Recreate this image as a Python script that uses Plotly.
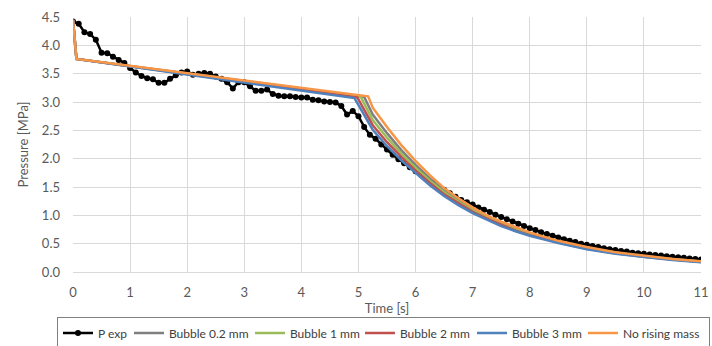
import plotly.graph_objects as go

# ---------------- data ----------------
t_exp = [round(i * 0.1, 1) for i in range(111)]
p_exp = [4.42, 4.38, 4.23, 4.20, 4.10, 3.87, 3.86, 3.80, 3.74, 3.69,
         3.60, 3.52, 3.46, 3.42, 3.40, 3.34, 3.34, 3.41, 3.47, 3.52,
         3.54, 3.48, 3.50, 3.51, 3.50, 3.45, 3.41, 3.35, 3.24, 3.35,
         3.35, 3.28, 3.20, 3.20, 3.22, 3.14, 3.11, 3.10, 3.10, 3.09,
         3.08, 3.08, 3.04, 3.03, 3.01, 3.00, 2.99, 2.93, 2.78, 2.84,
         2.75, 2.56, 2.42, 2.35, 2.25, 2.16, 2.07, 1.99, 1.92, 1.85,
         1.78, 1.71, 1.64, 1.57, 1.51, 1.45, 1.39, 1.33, 1.27, 1.23,
         1.19, 1.14, 1.10, 1.06, 1.01, 0.97, 0.93, 0.89, 0.85, 0.81,
         0.77, 0.74, 0.70, 0.67, 0.64, 0.61, 0.58, 0.55, 0.53, 0.50,
         0.48, 0.46, 0.44, 0.42, 0.40, 0.39, 0.37, 0.36, 0.34, 0.33,
         0.32, 0.31, 0.30, 0.29, 0.28, 0.27, 0.26, 0.25, 0.24, 0.23,
         0.22]

t_start = [0.0, 0.06]
p_start = [4.45, 3.76]
t_tail = [5.25, 5.5, 5.75, 6.0, 6.25, 6.5, 6.75, 7.0, 7.25, 7.5, 7.75, 8.0, 8.5,
          9.0, 9.5, 10.0, 10.5, 11.0]

t_knee_02 = 5.10
p_knee_02 = 3.09
p_tail_02 = [2.78, 2.45, 2.15, 1.89, 1.65, 1.44, 1.27, 1.11, 0.98, 0.87, 0.77,
             0.68, 0.54, 0.43, 0.34, 0.28, 0.23, 0.185]

t_knee_1 = 5.04
p_knee_1 = 3.09
p_tail_1 = [2.68, 2.37, 2.09, 1.84, 1.61, 1.41, 1.24, 1.09, 0.96, 0.85, 0.75,
            0.67, 0.53, 0.42, 0.34, 0.27, 0.22, 0.18]

t_knee_2 = 4.98
p_knee_2 = 3.08
p_tail_2 = [2.59, 2.29, 2.03, 1.79, 1.57, 1.37, 1.21, 1.06, 0.94, 0.83, 0.73,
            0.65, 0.52, 0.41, 0.33, 0.27, 0.22, 0.178]

t_knee_3 = 4.93
p_knee_3 = 3.07
p_tail_3 = [2.51, 2.22, 1.97, 1.75, 1.53, 1.34, 1.18, 1.04, 0.92, 0.81, 0.72,
            0.64, 0.51, 0.40, 0.32, 0.26, 0.21, 0.172]

t_knee_nr = 5.17
p_knee_nr = 3.10
p_tail_nr = [2.90, 2.56, 2.24, 1.96, 1.71, 1.48, 1.30, 1.14, 1.00, 0.89, 0.79,
             0.70, 0.55, 0.44, 0.35, 0.29, 0.23, 0.19]

names = ["P exp", "Bubble 0.2 mm", "Bubble 1 mm", "Bubble 2 mm", "Bubble 3 mm", "No rising mass"]
colors = ["#000000", "#7F7F7F", "#9BBB59", "#C0504D", "#4F81BD", "#F79646"]
legend_w = [26, 76, 65, 67, 66, 81]

FONT = "Lato"
TXT = "#595959"

fig = go.Figure()
fig.add_trace(go.Scatter(x=t_exp, y=p_exp, mode="lines+markers", name=names[0],
                         legendwidth=legend_w[0],
                         line=dict(color=colors[0], width=2.5),
                         marker=dict(color=colors[0], size=6, symbol="circle")))

models = [
    (t_knee_02, p_knee_02, p_tail_02),
    (t_knee_1, p_knee_1, p_tail_1),
    (t_knee_2, p_knee_2, p_tail_2),
    (t_knee_3, p_knee_3, p_tail_3),
    (t_knee_nr, p_knee_nr, p_tail_nr),
]
for (tk, pk, tail), nm, col, lw in zip(models, names[1:], colors[1:], legend_w[1:]):
    fig.add_trace(go.Scatter(x=t_start + [tk] + t_tail, y=p_start + [pk] + tail,
                             mode="lines", name=nm, legendwidth=lw,
                             line=dict(color=col, width=2.5)))

fig.update_layout(
    width=712, height=346,
    margin=dict(l=73, r=11, t=17, b=74, autoexpand=False),
    paper_bgcolor="white", plot_bgcolor="white",
    font=dict(family=FONT, size=13, color=TXT),
    showlegend=True,
    legend=dict(orientation="h", x=-0.0255, xanchor="left", y=-0.178, yanchor="top",
                bordercolor="#7F7F7F", borderwidth=1, font=dict(size=12, color="#404040"),
                itemwidth=30, tracegroupgap=0),
)
fig.update_xaxes(range=[0, 11], dtick=1, tick0=0, showgrid=True, gridcolor="#D9D9D9",
                 gridwidth=1, showline=True, linecolor="#D9D9D9", linewidth=1,
                 zeroline=False, ticks="", tickfont=dict(size=13, color=TXT),
                 automargin=False, ticklabelstandoff=8,
                 title=dict(text="Time [s]", font=dict(size=13, color=TXT), standoff=5))
fig.update_yaxes(range=[0, 4.5], dtick=0.5, tick0=0, tickformat=".1f", showgrid=True,
                 gridcolor="#D9D9D9", gridwidth=1, zeroline=False, showline=False, ticks="",
                 ticklabelstandoff=12, tickfont=dict(size=13, color=TXT), automargin=False,
                 title=dict(text="Pressure [MPa]", font=dict(size=13, color=TXT), standoff=10))

fig.write_html("out.html")
